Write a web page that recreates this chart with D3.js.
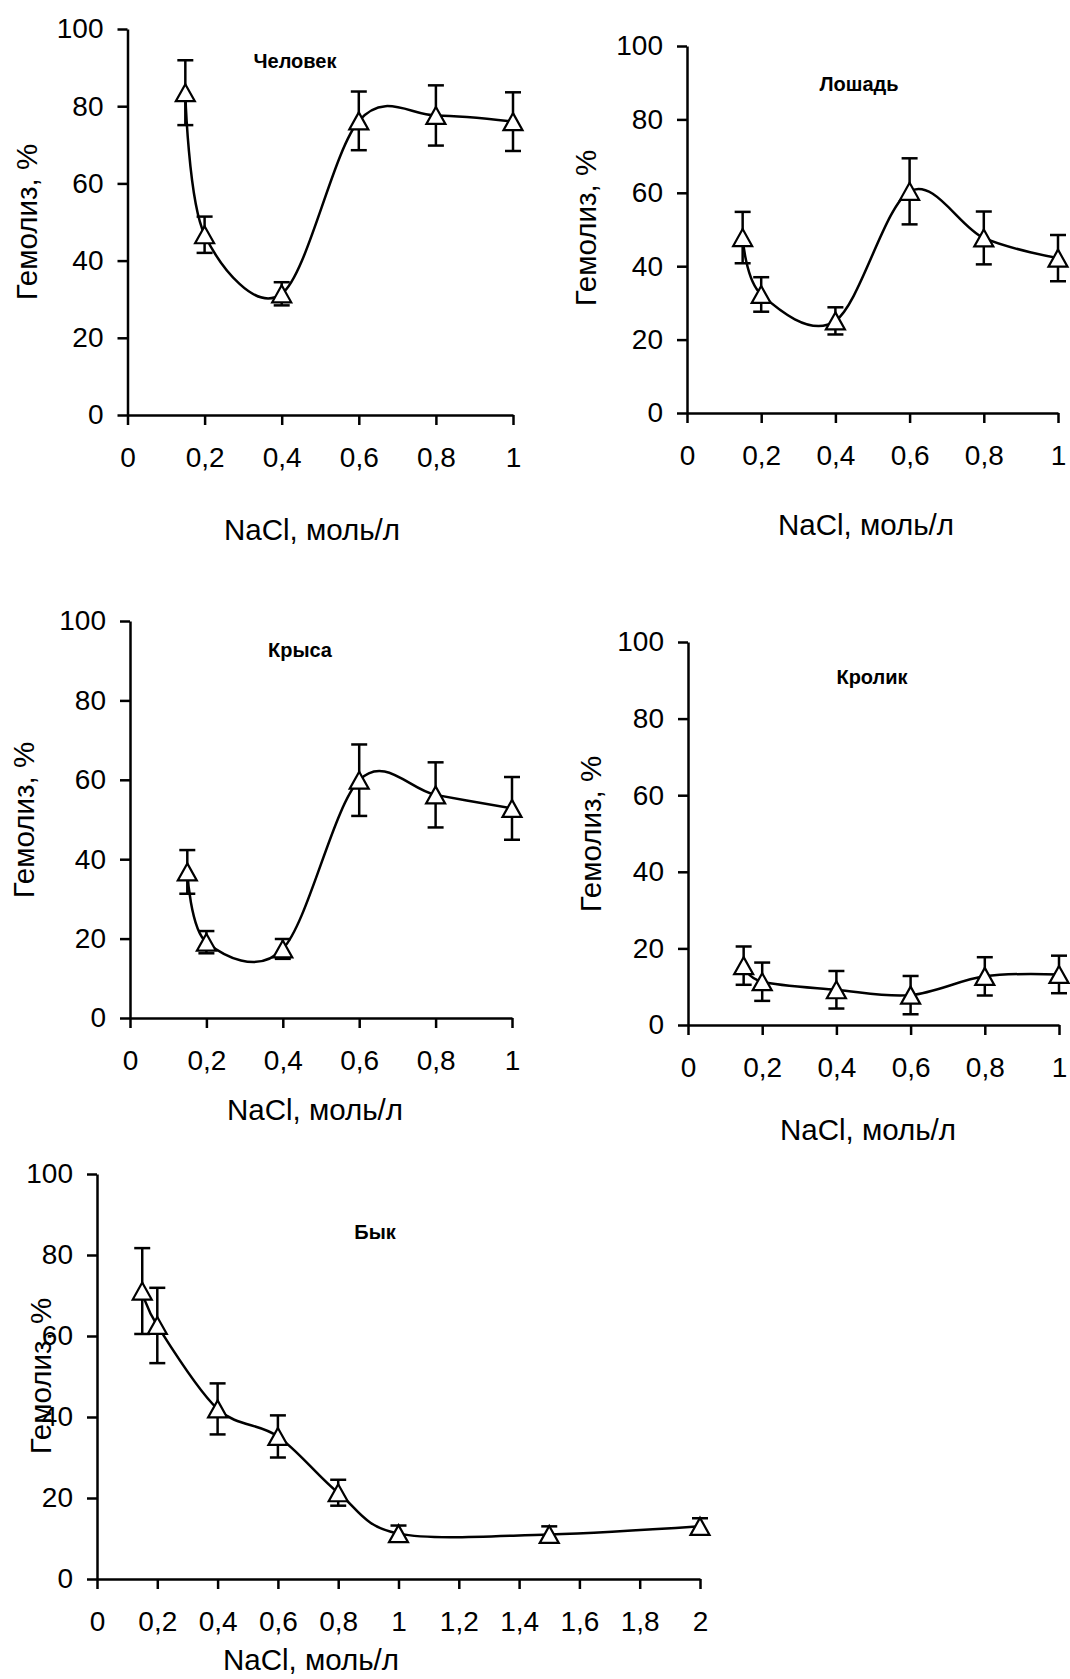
<!DOCTYPE html>
<html>
<head>
<meta charset="utf-8">
<script src="https://cdn.jsdelivr.net/npm/d3@7"></script>
<style>
  html, body { margin: 0; padding: 0; background: #fff; }
  svg { display: block; }
</style>
</head>
<body>
<div id="vis"></div>
<script>
const width = 1070;
const height = 1679;

// NaCl concentrations (mol/l)
const xMain = [0.15, 0.2, 0.4, 0.6, 0.8, 1];
const xBull = [0.15, 0.2, 0.4, 0.6, 0.8, 1, 1.5, 2];

// haemolysis, % (mean and +/- error)
const humanMean  = [83.5, 46.7, 31.4, 76.2, 77.6, 76.0];
const humanErr   = [8.4, 4.7, 3.0, 7.6, 7.8, 7.6];
const horseMean  = [47.8, 32.3, 25.1, 60.4, 47.7, 42.2];
const horseErr   = [7.0, 4.7, 3.7, 9.0, 7.2, 6.3];
const ratMean    = [36.8, 19.1, 17.4, 59.9, 56.2, 52.8];
const ratErr     = [5.5, 2.8, 2.5, 9.0, 8.2, 7.9];
const rabbitMean = [15.5, 11.3, 9.2, 7.8, 12.7, 13.2];
const rabbitErr  = [5.0, 5.0, 4.9, 5.0, 5.0, 4.9];
const bullMean   = [71.1, 62.6, 42.0, 35.2, 21.3, 11.2, 11.0, 13.0];
const bullErr    = [10.6, 9.3, 6.3, 5.2, 3.2, 2.0, 2.0, 2.0];

// tick labels
const yTicks = [0, 20, 40, 60, 80, 100];
const xTicksMain = [0, 0.2, 0.4, 0.6, 0.8, 1];
const xTicksBull = [0, 0.2, 0.4, 0.6, 0.8, 1, 1.2, 1.4, 1.6, 1.8, 2];

const titles = ["Человек", "Лошадь", "Крыса", "Кролик", "Бык"];
const yTitle = "Гемолиз, %";
const xTitle = "NaCl, моль/л";

const font = "'Liberation Sans', Arial, sans-serif";

// where each small chart sits on the page
const panels = [
  { title: titles[0], xs: xMain, mean: humanMean, err: humanErr, xTicks: xTicksMain, xMax: 1,
    left: 127.5, right: 513, bottom: 415, top: 29, tx: 295, ty: 61, yx: 27, yy: 222, nx: 312, ny: 530 },
  { title: titles[1], xs: xMain, mean: horseMean, err: horseErr, xTicks: xTicksMain, xMax: 1,
    left: 687, right: 1058, bottom: 413, top: 46, tx: 859, ty: 84, yx: 586, yy: 228, nx: 866, ny: 525 },
  { title: titles[2], xs: xMain, mean: ratMean, err: ratErr, xTicks: xTicksMain, xMax: 1,
    left: 130, right: 512, bottom: 1018, top: 621, tx: 300, ty: 650, yx: 24, yy: 820, nx: 315, ny: 1110 },
  { title: titles[3], xs: xMain, mean: rabbitMean, err: rabbitErr, xTicks: xTicksMain, xMax: 1,
    left: 688, right: 1059, bottom: 1025, top: 642, tx: 872, ty: 677, yx: 591, yy: 834, nx: 868, ny: 1130 },
  { title: titles[4], xs: xBull, mean: bullMean, err: bullErr, xTicks: xTicksBull, xMax: 2,
    left: 97, right: 700, bottom: 1579, top: 1174, tx: 375, ty: 1232, yx: 41, yy: 1376, nx: 311, ny: 1660 }
];

const svg = d3.select("#vis")
  .append("svg")
  .attr("width", width)
  .attr("height", height);

const fmt = d => String(d).replace(".", ",");

// open triangle marker, like the Excel one
const tri = "M0,-8.5L9.5,8.5L-9.5,8.5Z";

panels.forEach(p => {
  const x = d3.scaleLinear().domain([0, p.xMax]).range([p.left, p.right]);
  const y = d3.scaleLinear().domain([0, 100]).range([p.bottom, p.top]);
  const g = svg.append("g");

  const yAxis = g.append("g")
    .attr("transform", `translate(${p.left},0)`)
    .call(d3.axisLeft(y).tickValues(yTicks).tickSize(10).tickSizeOuter(0).tickPadding(14));
  const xAxis = g.append("g")
    .attr("transform", `translate(0,${p.bottom})`)
    .call(d3.axisBottom(x).tickValues(p.xTicks).tickFormat(fmt).tickSize(10).tickSizeOuter(0).tickPadding(22));

  [yAxis, xAxis].forEach(a => {
    a.attr("font-family", font).attr("font-size", 28);
    a.selectAll("path, line").attr("stroke", "#000").attr("stroke-width", 2.5);
    a.selectAll("text").attr("fill", "#000");
  });

  const pts = p.xs.map((v, i) => ({ x: v, m: p.mean[i], e: p.err[i] }));

  // smoothed line
  g.append("path")
    .datum(pts)
    .attr("fill", "none")
    .attr("stroke", "#000")
    .attr("stroke-width", 2.5)
    .attr("d", d3.line().x(d => x(d.x)).y(d => y(d.m)).curve(d3.curveCardinal.tension(0)));

  // error bars
  const eb = g.selectAll(".eb").data(pts).join("g").attr("class", "eb")
    .attr("stroke", "#000").attr("stroke-width", 2.5);
  eb.append("line")
    .attr("x1", d => x(d.x)).attr("x2", d => x(d.x))
    .attr("y1", d => y(d.m + d.e)).attr("y2", d => y(d.m - d.e));
  eb.append("line")
    .attr("x1", d => x(d.x) - 8).attr("x2", d => x(d.x) + 8)
    .attr("y1", d => y(d.m + d.e)).attr("y2", d => y(d.m + d.e));
  eb.append("line")
    .attr("x1", d => x(d.x) - 8).attr("x2", d => x(d.x) + 8)
    .attr("y1", d => y(d.m - d.e)).attr("y2", d => y(d.m - d.e));

  // markers
  g.selectAll(".mk").data(pts).join("path").attr("class", "mk")
    .attr("d", tri)
    .attr("transform", d => `translate(${x(d.x)},${y(d.m)})`)
    .attr("fill", "#fff")
    .attr("stroke", "#000")
    .attr("stroke-width", 2.2);

  // labels
  g.append("text")
    .attr("x", p.tx).attr("y", p.ty).attr("dy", "0.35em")
    .attr("text-anchor", "middle")
    .attr("font-family", font).attr("font-size", 20).attr("font-weight", "bold")
    .text(p.title);

  g.append("text")
    .attr("transform", `translate(${p.yx},${p.yy}) rotate(-90)`)
    .attr("dy", "0.35em")
    .attr("text-anchor", "middle")
    .attr("font-family", font).attr("font-size", 29.5)
    .text(yTitle);

  g.append("text")
    .attr("x", p.nx).attr("y", p.ny).attr("dy", "0.35em")
    .attr("text-anchor", "middle")
    .attr("font-family", font).attr("font-size", 29.5)
    .text(xTitle);
});
</script>
</body>
</html>
